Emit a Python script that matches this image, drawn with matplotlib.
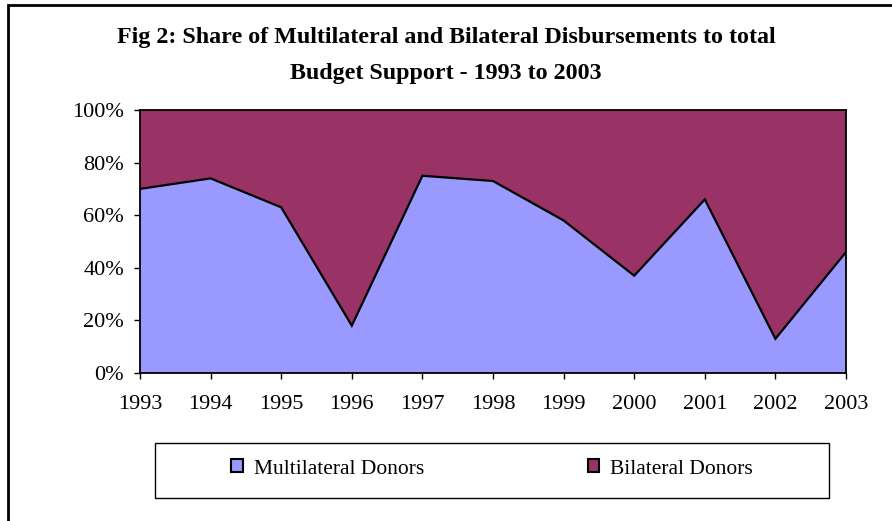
import matplotlib.pyplot as plt
from matplotlib.patches import Rectangle, Patch
from matplotlib.ticker import FuncFormatter
import numpy as np

years = [1993, 1994, 1995, 1996, 1997, 1998, 1999, 2000, 2001, 2002, 2003]
multilateral = [70, 74, 63, 18, 75, 73, 58, 37, 66, 13, 46]
bilateral = [100 - m for m in multilateral]

plt.rcParams['font.family'] = ['Liberation Serif', 'DejaVu Serif']

fig = plt.figure(figsize=(8.92, 5.21), dpi=100)
ax = fig.add_axes([140 / 892, 1 - 373 / 521, 706 / 892, 263 / 521])

x = np.arange(len(years))
multi = np.array(multilateral)
total = multi + np.array(bilateral)

ax.fill_between(x, 0, multi, facecolor='#9999FF', edgecolor='none')
ax.fill_between(x, multi, total, facecolor='#993366', edgecolor='none')
ax.plot(x, multi, color='black', lw=1.6, solid_joinstyle='miter')

ax.set_xlim(0, len(years) - 1)
ax.set_ylim(0, 100)
ax.set_xticks(x)
ax.set_xticklabels([str(y) for y in years])
ax.set_yticks(np.arange(0, 101, 20))
ax.yaxis.set_major_formatter(FuncFormatter(lambda v, pos: "{:.0f}%".format(v)))
ax.tick_params(axis='both', labelsize=16, length=4.5, width=1, direction='out', color='black')
ax.tick_params(axis='x', pad=11)
ax.tick_params(axis='y', pad=7)
for s in ax.spines.values():
    s.set_color('black')
    s.set_linewidth(1.3)

fig.text(0.5, 1 - 38 / 521, "Fig 2: Share of Multilateral and Bilateral Disbursements to total",
         ha='center', va='center', fontsize=17.3, fontweight='bold')
fig.text(0.5, 1 - 73 / 521, "Budget Support - 1993 to 2003",
         ha='center', va='center', fontsize=17.3, fontweight='bold')

# legend box under the plot
leg_box = Rectangle((155 / 892, 1 - 498 / 521), 674 / 892, 55 / 521, transform=fig.transFigure,
                    facecolor='white', edgecolor='black', lw=1.0)
fig.patches.append(leg_box)
handles = [Patch(facecolor='#9999FF', edgecolor='black', lw=1.5, label='Multilateral Donors'),
           Patch(facecolor='#993366', edgecolor='black', lw=1.5, label='Bilateral Donors')]
fig.legend(handles=handles, loc='center', bbox_to_anchor=(492 / 892, 1 - 469 / 521), ncol=2,
           frameon=False, fontsize=15.5, handlelength=0.55, handleheight=0.55, handletextpad=0.5,
           columnspacing=7.6)

# outer chart border
fig.patches.append(Rectangle((8 / 892, -0.1), 1.2, 1.1 - 5 / 521, transform=fig.transFigure,
                             facecolor='none', edgecolor='black', lw=2))

fig.savefig('out.png', dpi=100)
